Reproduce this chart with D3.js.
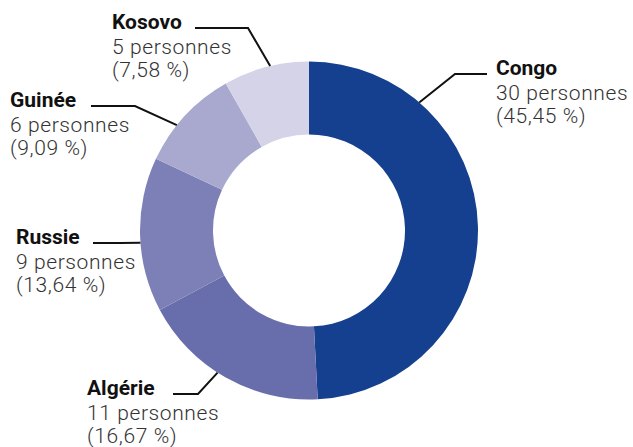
<!DOCTYPE html>
<html>
<head>
<meta charset="utf-8">
<script src="https://cdn.jsdelivr.net/npm/d3@7.9.0/dist/d3.min.js"></script>
<style>
  body { margin: 0; background: #fff; }
  svg { display: block; font-family: Roboto, "Noto Sans", sans-serif; }
</style>
</head>
<body>
<svg id="chart"></svg>
<script>
// data
const countries = ["Congo", "Algérie", "Russie", "Guinée", "Kosovo"];
const persons = [30, 11, 9, 6, 5];
const shares = ["45,45", "16,67", "13,64", "9,09", "7,58"];
const colors = ["#15408f", "#686dab", "#7d80b7", "#a9a9cf", "#d4d3e8"];

const width = 633, height = 447;
const cx = 309, cy = 230.5;
const outerR = 169, innerR = 96;

const svg = d3.select("#chart")
  .attr("width", width)
  .attr("height", height);

const g = svg.append("g")
  .attr("transform", `translate(${cx},${cy})`);

const pie = d3.pie().sort(null).value(d => d.value);
const arc = d3.arc().innerRadius(innerR).outerRadius(outerR);

const slices = pie(countries.map((c, i) => ({ name: c, value: persons[i], share: shares[i], color: colors[i] })));

g.selectAll("path.slice")
  .data(slices)
  .join("path")
  .attr("class", "slice")
  .attr("d", arc)
  .attr("fill", d => d.data.color);

// label layout: text anchor, leader line start + elbow, fraction along the slice
const labelLayout = {
  "Congo":   { x: 496, y: 75,  lineStart: 487, elbow: 455, t: 0.23 },
  "Algérie": { x: 87,  y: 395, lineStart: 173, elbow: 198, t: 0.55 },
  "Russie":  { x: 16,  y: 244, lineStart: 93,  elbow: 120, t: 0.45 },
  "Guinée":  { x: 10,  y: 107, lineStart: 91,  elbow: 135, t: 0.38 },
  "Kosovo":  { x: 112, y: 29,  lineStart: 195, elbow: 248, t: 0.55 }
};

const labels = svg.append("g");

slices.forEach(s => {
  const L = labelLayout[s.data.name];
  const a = s.startAngle + (s.endAngle - s.startAngle) * L.t;
  const px = cx + outerR * Math.sin(a);
  const py = cy - outerR * Math.cos(a);
  const ly = L.y - 1;

  labels.append("path")
    .attr("d", `M${L.lineStart},${ly}L${L.elbow},${ly}L${px},${py}`)
    .attr("fill", "none")
    .attr("stroke", "#111")
    .attr("stroke-width", 2);

  const t = labels.append("text")
    .attr("x", L.x)
    .attr("y", L.y)
    .attr("font-size", 21);
  t.append("tspan")
    .attr("x", L.x)
    .attr("font-weight", 700)
    .attr("fill", "#111")
    .text(s.data.name);
  t.append("tspan")
    .attr("x", L.x)
    .attr("dy", 24.5)
    .attr("font-weight", 300)
    .attr("letter-spacing", 0.6)
    .attr("fill", "#333")
    .text(`${s.data.value} personnes`);
  t.append("tspan")
    .attr("x", L.x)
    .attr("dy", 23)
    .attr("font-weight", 300)
    .attr("letter-spacing", 0.6)
    .attr("fill", "#333")
    .text(`(${s.data.share} %)`);
});
</script>
</body>
</html>
